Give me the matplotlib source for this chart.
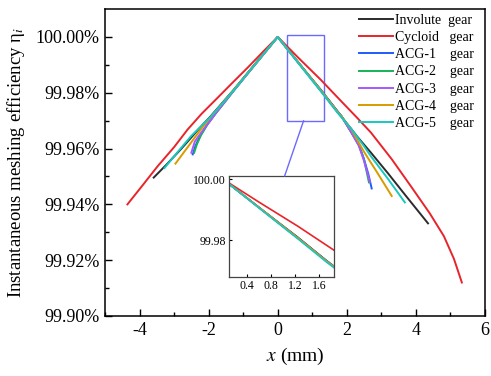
import matplotlib
matplotlib.use('Agg')
import matplotlib.pyplot as plt
from matplotlib.patches import Rectangle, ConnectionPatch

plt.rcParams['font.family'] = ['Liberation Serif', 'DejaVu Serif']
plt.rcParams['mathtext.fontset'] = 'stix'
plt.rcParams['axes.unicode_minus'] = False

# efficiency in percent, x in mm
x_involute = [-3.59, -3.2, -2.8, -2.3, -1.94, -1.3, -0.65, 0, 0.65, 1.25, 1.85, 2.3, 2.7, 3.2, 3.7, 4.35]
y_involute = [99.9496, 99.9545, 99.9598, 99.9668, 99.9716, 99.9807, 99.9904, 100.0,
              99.9900, 99.9810, 99.9714, 99.9643, 99.9585, 99.9510, 99.9432, 99.9332]

x_cycloid = [-4.35, -3.9, -3.48, -3.0, -2.61, -2.2, -1.74, -1.3, -0.87, -0.4, 0,
             0.6, 1.25, 1.85, 2.3, 2.7, 3.3, 3.86, 4.4, 4.81, 5.1, 5.33]
y_cycloid = [99.9400, 99.9470, 99.9536, 99.9605, 99.9668, 99.9725, 99.9782, 99.9837, 99.9890, 99.9950, 100.0,
             99.9925, 99.9846, 99.9768, 99.9710, 99.9657, 99.9562, 99.9464, 99.9368, 99.9286, 99.9205, 99.9120]

x_acg1 = [-2.46, -2.38, -2.25, -2.05, -1.8, -1.3, -0.65, 0, 0.65, 1.25, 1.74, 1.85, 2.12, 2.35, 2.49, 2.62, 2.72]
y_acg1 = [99.9579, 99.9610, 99.9645, 99.9685, 99.9725, 99.9803, 99.9902, 100.0,
          99.9900, 99.9808, 99.9732, 99.9716, 99.9660, 99.9612, 99.9565, 99.9510, 99.9457]

x_acg2 = [-2.42, -2.34, -2.22, -2.03, -1.8, -1.3, -0.65, 0, 0.65, 1.25, 1.74, 1.85, 2.12, 2.35, 2.5, 2.64]
y_acg2 = [99.9585, 99.9615, 99.9648, 99.9687, 99.9726, 99.9804, 99.9902, 100.0,
          99.9900, 99.9807, 99.9731, 99.9715, 99.9661, 99.9612, 99.9560, 99.9479]

x_acg3 = [-2.5, -2.4, -2.2, -1.95, -1.8, -1.3, -0.65, 0, 0.65, 1.25, 1.74, 1.85, 2.12, 2.35, 2.5, 2.67]
y_acg3 = [99.9585, 99.9625, 99.9660, 99.9700, 99.9726, 99.9804, 99.9902, 100.0,
          99.9900, 99.9807, 99.9730, 99.9714, 99.9660, 99.9610, 99.9555, 99.9480]

x_acg4 = [-2.96, -2.6, -2.23, -1.94, -1.3, -0.65, 0, 0.65, 1.25, 1.74, 1.85, 2.12, 2.49, 2.9, 3.30]
y_acg4 = [99.9546, 99.9606, 99.9668, 99.9713, 99.9806, 99.9903, 100.0,
          99.9900, 99.9808, 99.9730, 99.9714, 99.9670, 99.9590, 99.9510, 99.9430]

x_acg5 = [-3.28, -2.9, -2.52, -1.94, -1.3, -0.65, 0, 0.65, 1.25, 1.74, 1.85, 2.12, 2.49, 2.7, 3.2, 3.68]
y_acg5 = [99.9530, 99.9587, 99.9643, 99.9714, 99.9805, 99.9903, 100.0,
          99.9898, 99.9805, 99.9727, 99.9711, 99.9672, 99.9610, 99.9572, 99.9490, 99.9407]

labels = ['Involute  gear', 'Cycloid   gear', 'ACG-1    gear', 'ACG-2    gear',
          'ACG-3    gear', 'ACG-4    gear', 'ACG-5    gear']
colors = ['#2b2b2b', '#e8242b', '#1f5cff', '#16b35a', '#a657ff', '#d89b00', '#18c8c0']
series = [(x_involute, y_involute), (x_cycloid, y_cycloid), (x_acg1, y_acg1), (x_acg2, y_acg2),
          (x_acg3, y_acg3), (x_acg4, y_acg4), (x_acg5, y_acg5)]

fig = plt.figure(figsize=(4.91, 3.76), dpi=100)
ax = fig.add_axes([0.2138, 0.1596, 0.774, 0.8164])

for (xs, ys), lab, c in zip(series, labels, colors):
    ax.plot(xs, ys, color=c, lw=1.4, label=lab)

ax.set_xlim(-5, 6)
ax.set_ylim(99.90, 100.01)
ax.set_xticks([-4, -2, 0, 2, 4, 6])
ax.set_xticks([-5, -3, -1, 1, 3, 5], minor=True)
ax.set_yticks([99.90, 99.92, 99.94, 99.96, 99.98, 100.00])
ax.set_yticklabels(['99.90%', '99.92%', '99.94%', '99.96%', '99.98%', '100.00%'])
ax.set_yticks([99.91, 99.93, 99.95, 99.97, 99.99], minor=True)
ax.tick_params(which='both', direction='in', labelsize=13, top=False, right=False)
ax.tick_params(which='major', length=5, width=1, pad=4)
ax.tick_params(which='minor', length=3, width=1)
for s in ax.spines.values():
    s.set_linewidth(1.1)
ax.set_xlabel('$x$ (mm)', fontsize=14, labelpad=5)
ax.set_ylabel('Instantaneous meshing efficiency η$_i$', fontsize=13.5, labelpad=6)

leg = ax.legend(loc='upper left', bbox_to_anchor=(0.662, 0.993), frameon=False, fontsize=10,
                handlelength=2.4, handletextpad=0.15, labelspacing=0.3, borderaxespad=0, borderpad=0.2)

# zoom box
ax.add_patch(Rectangle((0.26, 99.970), 1.07, 0.0307, fill=False, ec='#6a6aff', lw=1))

# inset
ins = fig.add_axes([0.466, 0.263, 0.214, 0.269])
for (xs, ys), c in zip(series, colors):
    ins.plot(xs, ys, color=c, lw=1.2)
ins.set_xlim(0.1, 1.85)
ins.set_ylim(99.968, 100.001)
ins.set_xticks([0.4, 0.8, 1.2, 1.6])
ins.set_yticks([99.98, 100.00])
ins.set_yticklabels(['99.98', '100.00'])
ins.tick_params(direction='in', labelsize=8.5, length=2, pad=2)
for s in ins.spines.values():
    s.set_linewidth(0.9)
    s.set_color('#444444')

con = ConnectionPatch(xyA=(0.75, 99.970), coordsA=ax.transData,
                      xyB=(1.03, 100.001), coordsB=ins.transData,
                      color='#6a6aff', lw=1)
fig.add_artist(con)

fig.savefig('out.png', dpi=100)
